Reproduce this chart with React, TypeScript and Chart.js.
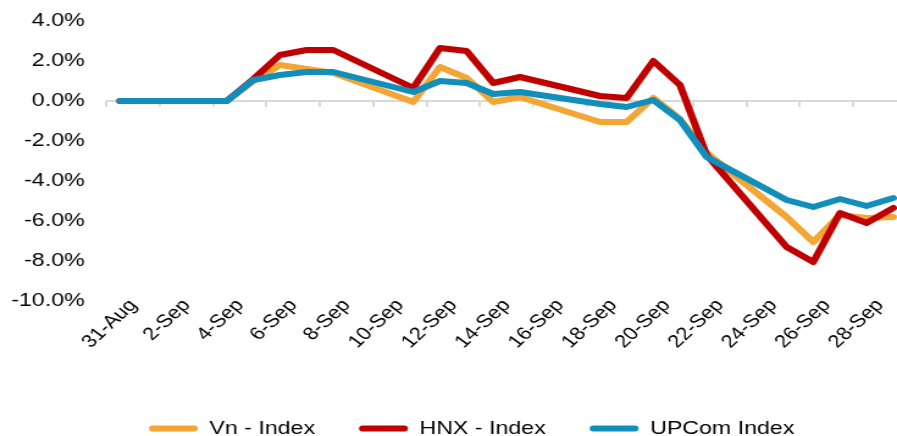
import React, { useEffect, useRef } from "react";
import { Chart, registerables } from "chart.js";

Chart.register(...registerables);

const DATES = [
  "31-Aug", "1-Sep", "2-Sep", "3-Sep", "4-Sep", "5-Sep", "6-Sep", "7-Sep", "8-Sep", "9-Sep",
  "10-Sep", "11-Sep", "12-Sep", "13-Sep", "14-Sep", "15-Sep", "16-Sep", "17-Sep", "18-Sep", "19-Sep",
  "20-Sep", "21-Sep", "22-Sep", "23-Sep", "24-Sep", "25-Sep", "26-Sep", "27-Sep", "28-Sep", "29-Sep",
];

// % change; null = non-trading day (line spans the gap)
const VN_INDEX = [0, 0, 0, 0, 0, 1.0, 1.8, 1.6, 1.4, null, null, -0.05, 1.7, 1.15, -0.05, 0.2, null, null, -1.05, -1.05, 0.15, -0.9, -2.6, null, null, -5.8, -7.05, -5.7, -5.85, -5.8];
const HNX_INDEX = [0, 0, 0, 0, 0, 1.1, 2.3, 2.55, 2.55, null, null, 0.65, 2.65, 2.5, 0.9, 1.2, null, null, 0.25, 0.15, 2.0, 0.8, -2.7, null, null, -7.3, -8.05, -5.6, -6.1, -5.35];
const UPCOM_INDEX = [0, 0, 0, 0, 0, 1.05, 1.3, 1.45, 1.45, null, null, 0.45, 1.0, 0.9, 0.35, 0.45, null, null, -0.15, -0.3, 0.05, -0.95, -2.8, null, null, -4.95, -5.3, -4.9, -5.25, -4.85];

const SERIES_NAMES = ["Vn - Index", "HNX - Index", "UPCom Index"];
const COLORS = ["#F4A533", "#C00000", "#128EBA"];

const Y_MIN = -10;
const Y_MAX = 4;
const Y_STEP = 2;

const FONT = "'Liberation Sans', Arial, sans-serif";
const LEGEND_SHIFT = 19;

const legendShift = {
  id: "legendShift",
  afterLayout(chart: any) {
    const lg = chart.legend;
    if (lg) {
      lg.left += LEGEND_SHIFT;
      lg.right += LEGEND_SHIFT;
    }
  },
};

export default function App() {
  const canvasRef = useRef<HTMLCanvasElement | null>(null);

  useEffect(() => {
    const canvas = canvasRef.current;
    if (!canvas) return;
    const series = [VN_INDEX, HNX_INDEX, UPCOM_INDEX];
    const xMin = -0.5;
    const xMax = DATES.length - 1 + 0.14;
    const labelTicks = DATES.map((_, i) => i).filter((i) => i % 2 === 0);
    const markTicks = labelTicks.map((i) => i - 0.5);

    const chart = new Chart(canvas, {
      type: "line",
      plugins: [legendShift],
      data: {
        datasets: series.map((vals, k) => ({
          label: SERIES_NAMES[k],
          data: vals.map((v, i) => ({ x: i, y: v })),
          borderColor: COLORS[k],
          backgroundColor: COLORS[k],
          borderWidth: 6,
          pointRadius: 0,
          pointHoverRadius: 0,
          tension: 0,
          spanGaps: true,
          borderCapStyle: "round",
          borderJoinStyle: "round",
          clip: false,
          order: 3 - k,
          xAxisID: "x",
          yAxisID: "y",
        })),
      },
      options: {
        responsive: false,
        devicePixelRatio: 1,
        animation: false,
        events: [],
        layout: { padding: { top: 21, bottom: -12, left: 0, right: 0 } },
        plugins: {
          tooltip: { enabled: false },
          title: { display: false },
          legend: {
            display: true,
            position: "bottom",
            labels: {
              font: { family: FONT, size: 19 },
              color: "#000000",
              boxWidth: 40,
              boxHeight: 6,
              padding: 36,
              generateLabels: (ch: any) =>
                ch.data.datasets.map((ds: any, i: number) => ({
                  text: ds.label,
                  fillStyle: ds.borderColor,
                  strokeStyle: ds.borderColor,
                  lineWidth: 0,
                  borderRadius: 3,
                  hidden: false,
                  datasetIndex: i,
                  fontColor: "#000000",
                })),
            },
          },
        },
        scales: {
          x: {
            type: "linear",
            position: "bottom",
            min: xMin,
            max: xMax,
            grid: { display: false, drawTicks: false },
            border: { display: false },
            afterBuildTicks: (axis: any) => {
              axis.ticks = labelTicks.map((v) => ({ value: v }));
            },
            afterFit: (axis: any) => {
              axis.height = 82;
              axis.paddingLeft = 0;
              axis.paddingRight = 0;
            },
            ticks: {
              autoSkip: false,
              minRotation: 48,
              maxRotation: 48,
              padding: -6,
              labelOffset: 11,
              color: "#000000",
              font: { family: FONT, size: 18 },
              callback: (v: any) => DATES[Number(v)] ?? "",
            },
          },
          xt: {
            type: "linear",
            position: { y: 0 },
            min: xMin,
            max: xMax,
            grid: {
              drawOnChartArea: false,
              drawTicks: true,
              tickLength: 6,
              color: "#D9D9D9",
              lineWidth: 2,
            },
            border: { display: false },
            afterBuildTicks: (axis: any) => {
              axis.ticks = markTicks.map((v) => ({ value: v }));
            },
            afterFit: (axis: any) => {
              axis.height = 0;
              axis.paddingLeft = 0;
              axis.paddingRight = 0;
            },
            ticks: { display: false },
          },
          y: {
            type: "linear",
            min: Y_MIN,
            max: Y_MAX,
            afterFit: (axis: any) => {
              axis.width = 87.4;
              axis.paddingTop = 0;
              axis.paddingBottom = 0;
            },
            ticks: {
              stepSize: Y_STEP,
              padding: 18,
              color: "#000000",
              font: { family: FONT, size: 19 },
              callback: (v: any) => Number(v).toFixed(1) + "%",
            },
            grid: {
              drawTicks: false,
              lineWidth: 2,
              color: (ctx: any) => (ctx.tick && ctx.tick.value === 0 ? "#D9D9D9" : "rgba(0,0,0,0)"),
            },
            border: { display: false },
          },
        },
      },
    });
    return () => chart.destroy();
  }, []);

  return (
    <div style={{ position: "fixed", left: 0, top: 0, width: 897, height: 436, overflow: "hidden", background: "#ffffff" }}>
      <canvas
        ref={canvasRef}
        width={735}
        height={436}
        style={{ width: "897px", height: "436px", display: "block" }}
      />
    </div>
  );
}
